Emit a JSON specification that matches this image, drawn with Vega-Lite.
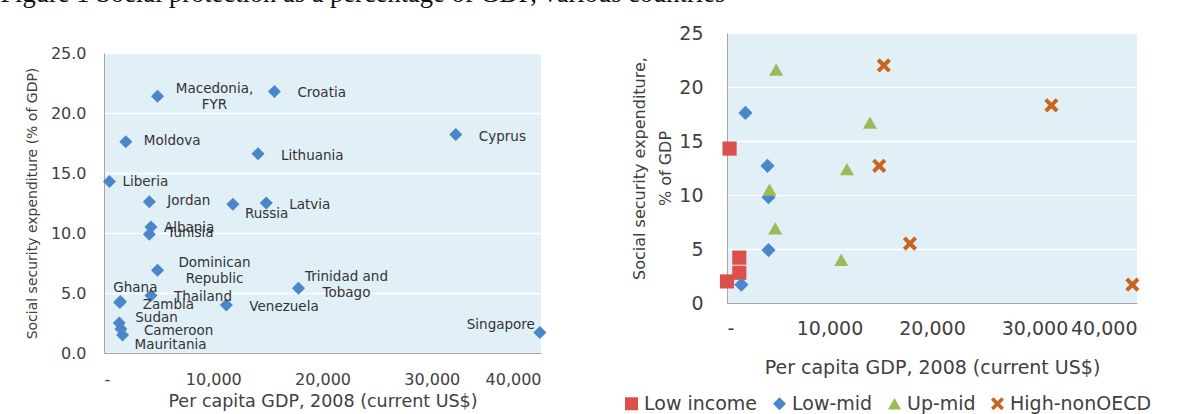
{
  "$schema": "https://vega.github.io/schema/vega-lite/v6.json",
  "padding": {"left": 0, "top": -20, "right": 0, "bottom": 0},
  "background": "white",
  "title": {"text": "Figure 1 Social protection as a percentage of GDP, various countries", "anchor": "start", "font": "Liberation Serif", "fontSize": 26.5, "fontWeight": "normal", "color": "#111111", "dx": -25, "offset": 17},
  "spacing": 84,
  "config": {
    "font": "DejaVu Sans",
    "view": {"fill": "#e1eff7", "stroke": null},
    "axis": {"labelColor": "#404040", "titleColor": "#404040", "titleFontWeight": "normal", "domainColor": "#a6a6a6", "ticks": false, "gridColor": "#ffffff", "gridWidth": 1.5, "labelFont": "DejaVu Sans", "titleFont": "DejaVu Sans"},
    "legend": {"labelFont": "DejaVu Sans", "labelColor": "#404040"},
    "text": {"font": "DejaVu Sans", "color": "#333333", "lineBreak": "\n", "lineHeight": 16}
  },
  "datasets": {
    "left": [
      {"country": "Macedonia,\nFYR", "gdp": 4900, "ss": 21.4},
      {"country": "Croatia", "gdp": 15600, "ss": 21.8},
      {"country": "Moldova", "gdp": 2000, "ss": 17.6},
      {"country": "Lithuania", "gdp": 14100, "ss": 16.6},
      {"country": "Cyprus", "gdp": 32200, "ss": 18.2},
      {"country": "Liberia", "gdp": 500, "ss": 14.3},
      {"country": "Jordan", "gdp": 4150, "ss": 12.6},
      {"country": "Russia", "gdp": 11800, "ss": 12.4},
      {"country": "Latvia", "gdp": 14850, "ss": 12.5},
      {"country": "Albania", "gdp": 4300, "ss": 10.5},
      {"country": "Tunisia", "gdp": 4150, "ss": 9.9},
      {"country": "Dominican\nRepublic", "gdp": 4900, "ss": 6.9},
      {"country": "Trinidad and\nTobago", "gdp": 17800, "ss": 5.4},
      {"country": "Zambia", "gdp": 1450, "ss": 4.2},
      {"country": "Ghana", "gdp": 1500, "ss": 4.3},
      {"country": "Thailand", "gdp": 4300, "ss": 4.8},
      {"country": "Venezuela", "gdp": 11200, "ss": 4.0},
      {"country": "Sudan", "gdp": 1400, "ss": 2.5},
      {"country": "Cameroon", "gdp": 1550, "ss": 2.0},
      {"country": "Mauritania", "gdp": 1700, "ss": 1.5},
      {"country": "Singapore", "gdp": 39900, "ss": 1.7}
    ],
    "right": [
      {"group": "Low income", "gdp": 250, "ss": 14.3},
      {"group": "Low income", "gdp": 1200, "ss": 4.2},
      {"group": "Low income", "gdp": 1200, "ss": 2.8},
      {"group": "Low income", "gdp": 0, "ss": 2.0},
      {"group": "Low-mid", "gdp": 1800, "ss": 17.6},
      {"group": "Low-mid", "gdp": 3950, "ss": 12.7},
      {"group": "Low-mid", "gdp": 4050, "ss": 9.8},
      {"group": "Low-mid", "gdp": 4050, "ss": 4.9},
      {"group": "Low-mid", "gdp": 1400, "ss": 1.7},
      {"group": "Up-mid", "gdp": 4800, "ss": 21.6},
      {"group": "Up-mid", "gdp": 13950, "ss": 16.7},
      {"group": "Up-mid", "gdp": 11700, "ss": 12.4},
      {"group": "Up-mid", "gdp": 4150, "ss": 10.5},
      {"group": "Up-mid", "gdp": 4700, "ss": 6.9},
      {"group": "Up-mid", "gdp": 11150, "ss": 4.0},
      {"group": "High-nonOECD", "gdp": 15300, "ss": 22.0},
      {"group": "High-nonOECD", "gdp": 31650, "ss": 18.3},
      {"group": "High-nonOECD", "gdp": 14850, "ss": 12.7},
      {"group": "High-nonOECD", "gdp": 17850, "ss": 5.5},
      {"group": "High-nonOECD", "gdp": 39550, "ss": 1.7}
    ]
  },
  "hconcat": [
    {
      "spacing": 11,
      "vconcat": [
        {
          "width": 437,
          "height": 1,
          "view": {"fill": null, "stroke": null},
          "data": {"values": []},
          "mark": "point"
        },
        {
          "width": 437,
          "height": 300,
          "data": {"name": "left"},
          "encoding": {
            "x": {"field": "gdp", "type": "quantitative", "scale": {"domain": [0, 40000], "nice": false},
              "axis": {"title": "Per capita GDP, 2008 (current US$)", "values": [0, 10000, 20000, 30000, 40000], "labelExpr": "datum.value == 0 ? '-' : format(datum.value, ',')", "grid": false, "labelFontSize": 16, "labelPadding": 18, "titleFontSize": 17.5, "titlePadding": 5}},
            "y": {"field": "ss", "type": "quantitative", "scale": {"domain": [0, 25], "nice": false},
              "axis": {"title": "Social security expenditure (% of GDP)", "values": [0, 5, 10, 15, 20, 25], "format": ".1f", "grid": true, "labelFontSize": 16, "labelPadding": 18, "titleFontSize": 14, "titlePadding": 11}}
          },
          "layer": [
            {"mark": {"type": "point", "shape": "diamond", "filled": true, "color": "#4a86c8", "size": 170, "opacity": 1}},
            {"transform": [{"filter": {"field": "country", "oneOf": ["Croatia", "Latvia", "Venezuela", "Cameroon", "Lithuania", "Thailand", "Cyprus", "Zambia"]}}],
              "mark": {"type": "text", "align": "left", "baseline": "middle", "dx": 23, "dy": 2, "fontSize": 13.5}, "encoding": {"text": {"field": "country"}}},
            {"transform": [{"filter": {"field": "country", "oneOf": ["Moldova", "Jordan", "Tunisia"]}}],
              "mark": {"type": "text", "align": "left", "baseline": "middle", "dx": 18, "dy": -1, "fontSize": 13.5}, "encoding": {"text": {"field": "country"}}},
            {"transform": [{"filter": {"field": "country", "oneOf": ["Liberia", "Albania"]}}],
              "mark": {"type": "text", "align": "left", "baseline": "middle", "dx": 13, "dy": 1, "fontSize": 13.5}, "encoding": {"text": {"field": "country"}}},
            {"transform": [{"filter": {"field": "country", "oneOf": ["Russia", "Mauritania"]}}],
              "mark": {"type": "text", "align": "left", "baseline": "middle", "dx": 12, "dy": 10, "fontSize": 13.5}, "encoding": {"text": {"field": "country"}}},
            {"transform": [{"filter": {"field": "country", "oneOf": ["Sudan"]}}],
              "mark": {"type": "text", "align": "left", "baseline": "middle", "dx": 16, "dy": -5, "fontSize": 13.5}, "encoding": {"text": {"field": "country"}}},
            {"transform": [{"filter": {"field": "country", "oneOf": ["Ghana"]}}],
              "mark": {"type": "text", "align": "center", "baseline": "middle", "dx": 15, "dy": -13, "fontSize": 13.5}, "encoding": {"text": {"field": "country"}}},
            {"transform": [{"filter": {"field": "country", "oneOf": ["Macedonia,\nFYR", "Dominican\nRepublic"]}}],
              "mark": {"type": "text", "align": "center", "baseline": "middle", "dx": 57, "dy": -7, "fontSize": 13.5}, "encoding": {"text": {"field": "country"}}},
            {"transform": [{"filter": {"field": "country", "oneOf": ["Trinidad and\nTobago"]}}],
              "mark": {"type": "text", "align": "center", "baseline": "middle", "dx": 48, "dy": -11, "fontSize": 13.5}, "encoding": {"text": {"field": "country"}}},
            {"transform": [{"filter": {"field": "country", "oneOf": ["Singapore"]}}],
              "mark": {"type": "text", "align": "right", "baseline": "middle", "dx": -5, "dy": -8, "fontSize": 13.5}, "encoding": {"text": {"field": "country"}}}
          ]
        }
      ]
    },
    {
      "width": 410,
      "height": 270,
      "data": {"name": "right"},
      "mark": {"type": "point", "filled": true, "size": 200, "opacity": 1},
      "encoding": {
        "x": {"field": "gdp", "type": "quantitative", "scale": {"domain": [0, 40000], "nice": false},
          "axis": {"title": "Per capita GDP, 2008 (current US$)", "values": [0, 10000, 20000, 30000, 40000], "labelExpr": "datum.value == 0 ? '-' : format(datum.value, ',')", "grid": false, "labelFontSize": 19, "labelPadding": 16, "titleFontSize": 19, "titlePadding": 20}},
        "y": {"field": "ss", "type": "quantitative", "scale": {"domain": [0, 25], "nice": false},
          "axis": {"title": ["Social security expenditure,", "% of GDP"], "values": [0, 5, 10, 15, 20, 25], "format": "d", "grid": true, "labelFontSize": 19, "labelPadding": 24, "titleFontSize": 16, "titlePadding": 5, "titleLineHeight": 26}},
        "color": {"field": "group", "type": "nominal",
          "scale": {"domain": ["Low income", "Low-mid", "Up-mid", "High-nonOECD"], "range": ["#dd4f4a", "#4a86c8", "#9bbb59", "#c8641e"]},
          "legend": {"orient": "none", "legendX": 518, "legendY": 361, "direction": "horizontal", "title": null, "labelFontSize": 19, "symbolSize": 170, "columnPadding": 11, "labelOffset": 3, "symbolOpacity": 1}},
        "shape": {"field": "group", "type": "nominal",
          "scale": {"domain": ["Low income", "Low-mid", "Up-mid", "High-nonOECD"], "range": ["square", "diamond", "triangle-up", "M-1,-0.6L-0.6,-1L0,-0.4L0.6,-1L1,-0.6L0.4,0L1,0.6L0.6,1L0,0.4L-0.6,1L-1,0.6L-0.4,0Z"]},
          "legend": {"orient": "none", "legendX": 518, "legendY": 361, "direction": "horizontal", "title": null, "labelFontSize": 19, "symbolSize": 170, "columnPadding": 11, "labelOffset": 3, "symbolOpacity": 1}}
      }
    }
  ]
}
